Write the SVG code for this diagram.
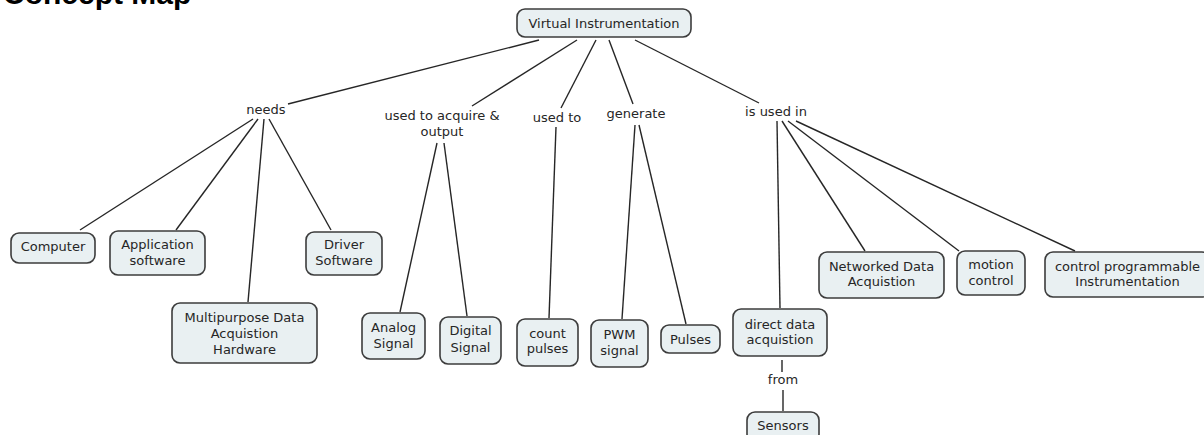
<svg xmlns="http://www.w3.org/2000/svg" width="1204" height="435" viewBox="0 0 1204 435">
<style>
.box{fill:#e9f0f2;stroke:#3c3c3c;stroke-width:1.6}
.t{font-family:"DejaVu Sans",Verdana,sans-serif;font-size:13px;fill:#262626;text-anchor:middle}
.c line{stroke:#262626;stroke-width:1.4}
.title{font-family:"Liberation Sans",Arial,sans-serif;font-weight:bold;font-size:30px;fill:#000}
</style>
<rect width="1204" height="435" fill="#fff"/>
<text class="title" x="3" y="4">Concept Map</text>
<g class="c" id="connectors">
<line x1="539" y1="40" x2="288" y2="104"/>
<line x1="577" y1="40" x2="472" y2="106"/>
<line x1="596" y1="40" x2="561" y2="108"/>
<line x1="609" y1="40" x2="633" y2="104"/>
<line x1="635" y1="40" x2="759" y2="103"/>
<line x1="253" y1="119" x2="80" y2="230"/>
<line x1="258" y1="119" x2="176" y2="230"/>
<line x1="264" y1="119" x2="248" y2="302"/>
<line x1="269" y1="119" x2="331" y2="230"/>
<line x1="437" y1="143" x2="400" y2="312"/>
<line x1="444" y1="143" x2="467" y2="316"/>
<line x1="556" y1="127" x2="549" y2="318"/>
<line x1="635" y1="125" x2="622" y2="319"/>
<line x1="639" y1="125" x2="686" y2="324"/>
<line x1="777" y1="121" x2="780" y2="308"/>
<line x1="782" y1="121" x2="865" y2="251"/>
<line x1="788" y1="121" x2="959" y2="251"/>
<line x1="796" y1="121" x2="1075" y2="251"/>
<line x1="782" y1="360" x2="782" y2="372"/>
<line x1="783" y1="390" x2="783" y2="411"/>
</g>
<g id="link-needs"><text class="t" x="266" y="114">needs</text></g>
<g id="link-acquire"><text class="t" x="442" y="120">used to acquire &amp;</text><text class="t" x="442" y="136">output</text></g>
<g id="link-usedto"><text class="t" x="557" y="122">used to</text></g>
<g id="link-generate"><text class="t" x="636" y="118">generate</text></g>
<g id="link-isusedin"><text class="t" x="776" y="116">is used in</text></g>
<g id="link-from"><text class="t" x="783" y="384">from</text></g>
<g id="n-vi"><rect class="box" x="517" y="9" width="174" height="28" rx="8"/><text class="t" x="604" y="28">Virtual Instrumentation</text></g>
<g id="n-computer"><rect class="box" x="11" y="233" width="84" height="30" rx="8"/><text class="t" x="53" y="251">Computer</text></g>
<g id="n-appsw"><rect class="box" x="110" y="231" width="95" height="44" rx="8"/><text class="t" x="157.5" y="249">Application</text><text class="t" x="157.5" y="265">software</text></g>
<g id="n-driver"><rect class="box" x="306" y="232" width="76" height="43" rx="8"/><text class="t" x="344" y="249">Driver</text><text class="t" x="344" y="265">Software</text></g>
<g id="n-multi"><rect class="box" x="172" y="303" width="145" height="60" rx="8"/><text class="t" x="244.5" y="321.5">Multipurpose Data</text><text class="t" x="244.5" y="337.5">Acquistion</text><text class="t" x="244.5" y="353.5">Hardware</text></g>
<g id="n-analog"><rect class="box" x="362" y="313" width="63" height="46" rx="8"/><text class="t" x="393.5" y="331.5">Analog</text><text class="t" x="393.5" y="347.5">Signal</text></g>
<g id="n-digital"><rect class="box" x="440" y="317" width="61" height="47" rx="8"/><text class="t" x="470.5" y="335">Digital</text><text class="t" x="470.5" y="351.5">Signal</text></g>
<g id="n-count"><rect class="box" x="517" y="319" width="61" height="47" rx="8"/><text class="t" x="547.5" y="337.5">count</text><text class="t" x="547.5" y="353">pulses</text></g>
<g id="n-pwm"><rect class="box" x="591" y="320" width="57" height="47" rx="8"/><text class="t" x="619.5" y="339">PWM</text><text class="t" x="619.5" y="354.5">signal</text></g>
<g id="n-pulses"><rect class="box" x="661" y="325" width="59" height="28" rx="8"/><text class="t" x="690.5" y="343.5">Pulses</text></g>
<g id="n-direct"><rect class="box" x="733" y="309" width="94" height="47" rx="8"/><text class="t" x="780" y="328.5">direct data</text><text class="t" x="780" y="344">acquistion</text></g>
<g id="n-sensors"><rect class="box" x="747" y="412" width="72" height="30" rx="8"/><text class="t" x="783" y="430">Sensors</text></g>
<g id="n-networked"><rect class="box" x="819" y="252" width="125" height="46" rx="8"/><text class="t" x="881.5" y="270.5">Networked Data</text><text class="t" x="881.5" y="286">Acquistion</text></g>
<g id="n-motion"><rect class="box" x="957" y="251" width="68" height="44" rx="8"/><text class="t" x="991" y="269">motion</text><text class="t" x="991" y="284.5">control</text></g>
<g id="n-cpi"><rect class="box" x="1045" y="252" width="165" height="45" rx="8"/><text class="t" x="1127.5" y="270.5">control programmable</text><text class="t" x="1127.5" y="286">Instrumentation</text></g>
</svg>
